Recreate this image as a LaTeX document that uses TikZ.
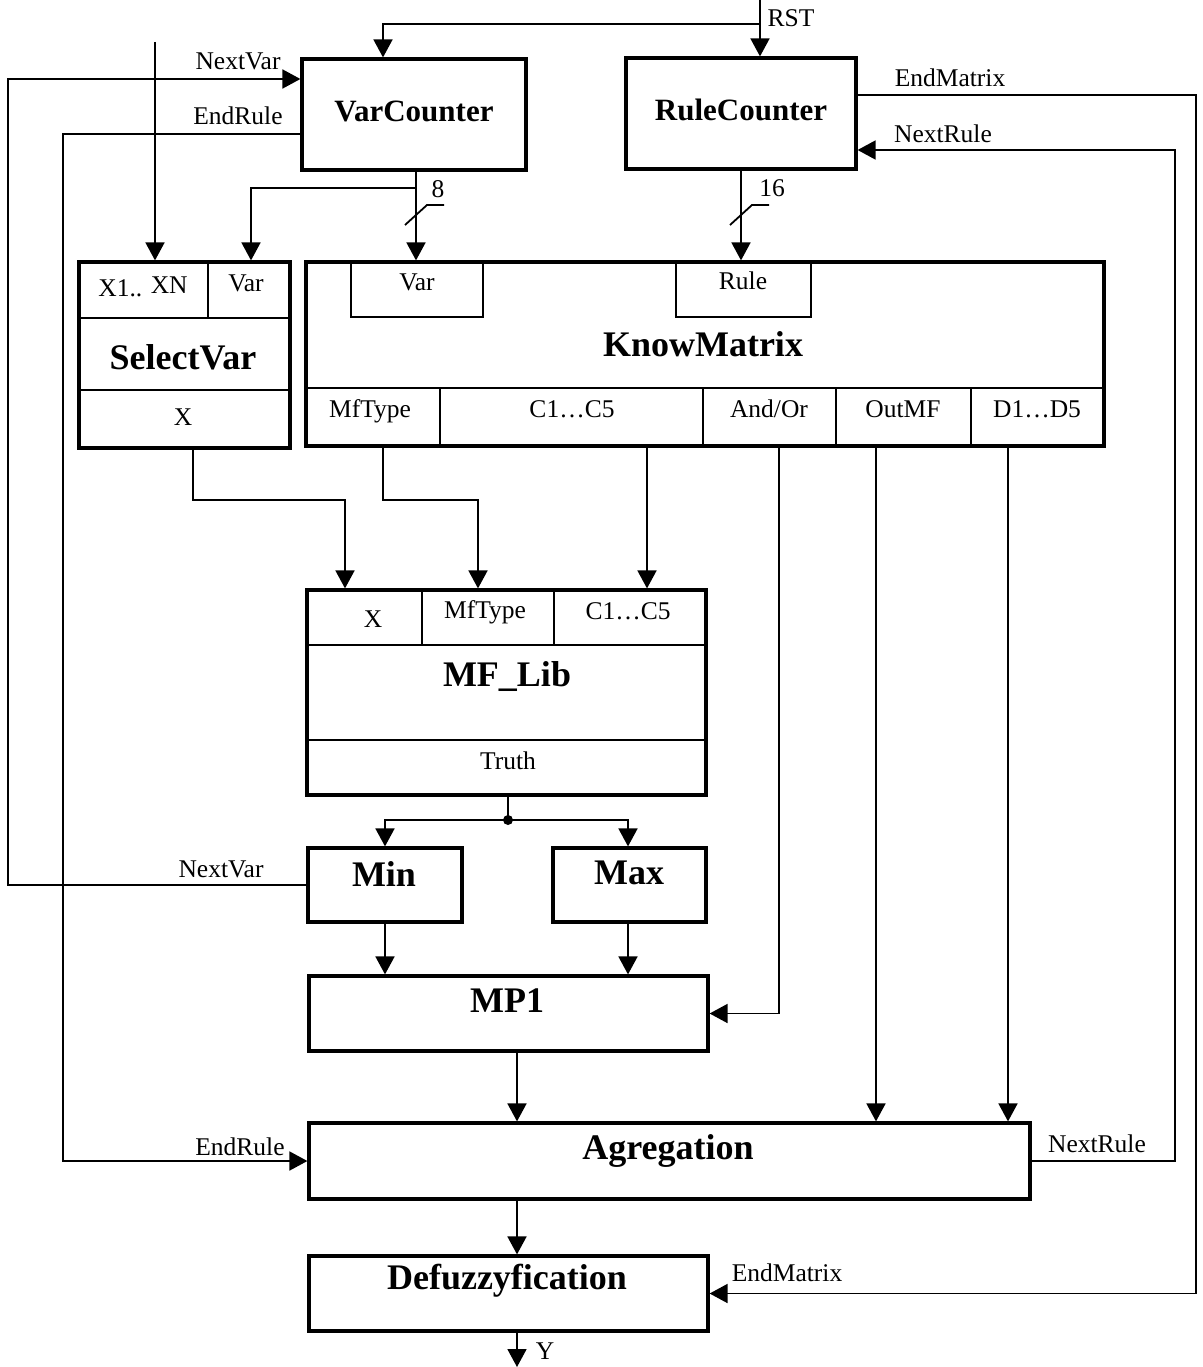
\documentclass[tikz,border=0pt]{standalone}
\usepackage{fontspec}
\setmainfont{Liberation Serif}
\usetikzlibrary{arrows.meta}
\begin{document}
\begin{tikzpicture}[x=1pt,y=-1pt,
  box/.style={draw, line width=3.2pt, inner sep=0pt},
  conn/.style={line width=1.8pt, -{Triangle[length=18pt,width=19pt]}},
  wire/.style={line width=1.8pt},
  div/.style={line width=2.2pt},
  lbl/.style={inner sep=0pt, font=\fontsize{25.5}{27}\selectfont},
  ttl/.style={inner sep=0pt, font=\fontsize{36}{38}\selectfont\bfseries},
  cttl/.style={inner sep=0pt, font=\fontsize{31}{33}\selectfont\bfseries}]
\useasboundingbox (0,0) rectangle (1202,1367);
% blocks
\node[box, minimum width=224pt, minimum height=111pt] (vc) at (414,114.5) {};
\node[box, minimum width=230pt, minimum height=111pt] (rc) at (741,113.5) {};
\node[box, minimum width=211pt, minimum height=186pt] (sv) at (184.5,355) {};
\node[box, minimum width=798pt, minimum height=184pt] (km) at (705,354) {};
\node[box, minimum width=399pt, minimum height=205pt] (mf) at (506.5,692.5) {};
\node[box, minimum width=154pt, minimum height=74pt] (mn) at (385,885) {};
\node[box, minimum width=153pt, minimum height=74pt] (mx) at (629.5,885) {};
\node[box, minimum width=399pt, minimum height=75pt] (mp) at (508.5,1013.5) {};
\node[box, minimum width=721pt, minimum height=76pt] (ag) at (669.5,1161) {};
\node[box, minimum width=399pt, minimum height=75pt] (df) at (508.5,1293.5) {};
% titles
\node[cttl] (tvc) at (414,111) {VarCounter};
\node[cttl] (trc) at (741,110) {RuleCounter};
\node[ttl] (tsv) at (183,357) {SelectVar};
\node[ttl] (tkm) at (703,344) {KnowMatrix};
\node[ttl] (tmf) at (507,677) {MF\_Lib};
\node[ttl] (tmn) at (384,874) {Min};
\node[ttl] (tmx) at (629,873) {Max};
\node[ttl] (tmp) at (507,1001) {MP1};
\node[ttl] (tag) at (668,1151) {Agregation};
\node[ttl] (tdf) at (507,1281) {Defuzzyfication};
% SelectVar internals
\draw[div] (79,318) -- (290,318);
\draw[div] (79,390) -- (290,390);
\draw[div] (208,262) -- (208,318);
\node[lbl] (sx1) at (143,287) {X1.. \raisebox{3pt}{XN}};
\node[lbl] (svar) at (246,283) {Var};
\node[lbl] (sx) at (183,417) {X};
% KnowMatrix internals
\draw[div] (351,262) -- (351,317) -- (483,317) -- (483,262);
\draw[div] (676,262) -- (676,317) -- (811,317) -- (811,262);
\draw[div] (306,388) -- (1104,388);
\foreach \xx in {440,703,836,971} \draw[div] (\xx,388) -- (\xx,446);
\node[lbl] (kvar) at (417,282) {Var};
\node[lbl] (krule) at (743,281) {Rule};
\node[lbl] (kmft) at (370,411) {MfType};
\node[lbl] (kc) at (572,409) {C1…C5};
\node[lbl] (kao) at (769,409) {And/Or};
\node[lbl] (kom) at (903,409) {OutMF};
\node[lbl] (kd) at (1037,409) {D1…D5};
% MF_Lib internals
\draw[div] (307,645) -- (706,645);
\draw[div] (307,740) -- (706,740);
\draw[div] (422,590) -- (422,645);
\draw[div] (554,590) -- (554,645);
\node[lbl] (mfx) at (373,619) {X};
\node[lbl] (mft) at (485,612) {MfType};
\node[lbl] (mfc) at (628,611) {C1…C5};
\node[lbl] (mftr) at (508,761) {Truth};
% RST
\coordinate (rst) at (760,0);
\coordinate (rstj) at (760,24);
\coordinate (vcin) at (383,24);
\draw[conn] (rst) -- (rst |- rc.north);
\draw[conn] (rstj) -- (vcin) -- (vcin |- vc.north);
\node[lbl] (lrst) at (791,18) {RST};
% external X input
\coordinate (xin) at (155,42);
\draw[conn] (xin) -- (xin |- sv.north);
% NextVar loop
\coordinate (nvl) at (8,79);
\draw[conn] (mn.west) -- (mn.west -| nvl) -- (nvl) -- (nvl -| vc.west);
\node[lbl] (lnv1) at (238,61) {NextVar};
\node[lbl] (lnv2) at (221,869) {NextVar};
% EndRule loop
\coordinate (erl) at (63,134);
\draw[conn] (erl -| vc.west) -- (erl) -- (erl |- ag.west) -- (ag.west);
\node[lbl] (ler1) at (238,116) {EndRule};
\node[lbl] (ler2) at (240,1147) {EndRule};
% VarCounter output bus
\coordinate (vco) at (416,188);
\coordinate (svv) at (251,188);
\draw[conn] (vco |- vc.south) -- (vco |- km.north);
\draw[conn] (vco) -- (svv) -- (svv |- sv.north);
\draw[wire] (405,225) -- (427,205) -- (444,205);
\node[lbl] (l8) at (438,189) {8};
% RuleCounter output bus
\coordinate (rco) at (741,188);
\draw[conn] (rco |- rc.south) -- (rco |- km.north);
\draw[wire] (730,225) -- (752,205) -- (769,205);
\node[lbl] (l16) at (772,188) {16};
% EndMatrix loop
\coordinate (emr) at (1196,95);
\draw[conn] (emr -| rc.east) -- (emr) -- (emr |- df.east) -- (df.east);
\node[lbl] (lem1) at (950,78) {EndMatrix};
\node[lbl] (lem2) at (787,1273) {EndMatrix};
% NextRule loop
\coordinate (nrr) at (1175,150);
\draw[conn] (ag.east) -- (ag.east -| nrr) -- (nrr) -- (nrr -| rc.east);
\node[lbl] (lnr1) at (943,134) {NextRule};
\node[lbl] (lnr2) at (1097,1144) {NextRule};
% SelectVar X -> MF_Lib X
\coordinate (a1) at (193,500);
\coordinate (a2) at (345,500);
\draw[conn] (a1 |- sv.south) -- (a1) -- (a2) -- (a2 |- mf.north);
% MfType
\coordinate (b1) at (383,500);
\coordinate (b2) at (478,500);
\draw[conn] (b1 |- km.south) -- (b1) -- (b2) -- (b2 |- mf.north);
% C1..C5
\coordinate (c1) at (647,500);
\draw[conn] (c1 |- km.south) -- (c1 |- mf.north);
% And/Or
\coordinate (ao) at (779,500);
\draw[conn] (ao |- km.south) -- (ao |- mp.east) -- (mp.east);
% OutMF, D1..D5
\coordinate (om) at (876,500);
\coordinate (dd) at (1008,500);
\draw[conn] (om |- km.south) -- (om |- ag.north);
\draw[conn] (dd |- km.south) -- (dd |- ag.north);
% Truth split
\coordinate (tj) at (508,820);
\coordinate (tl) at (385,820);
\coordinate (tr) at (628,820);
\draw[wire] (tj |- mf.south) -- (tj);
\draw[conn] (tj) -- (tl) -- (tl |- mn.north);
\draw[conn] (tj) -- (tr) -- (tr |- mx.north);
\fill (tj) circle (5pt);
% Min/Max -> MP1
\draw[conn] (tl |- mn.south) -- (tl |- mp.north);
\draw[conn] (tr |- mx.south) -- (tr |- mp.north);
% vertical chain
\coordinate (vch) at (517,1367);
\draw[conn] (vch |- mp.south) -- (vch |- ag.north);
\draw[conn] (vch |- ag.south) -- (vch |- df.north);
\draw[conn] (vch |- df.south) -- (vch);
\node[lbl] (ly) at (545,1351) {Y};
\end{tikzpicture}
\end{document}
